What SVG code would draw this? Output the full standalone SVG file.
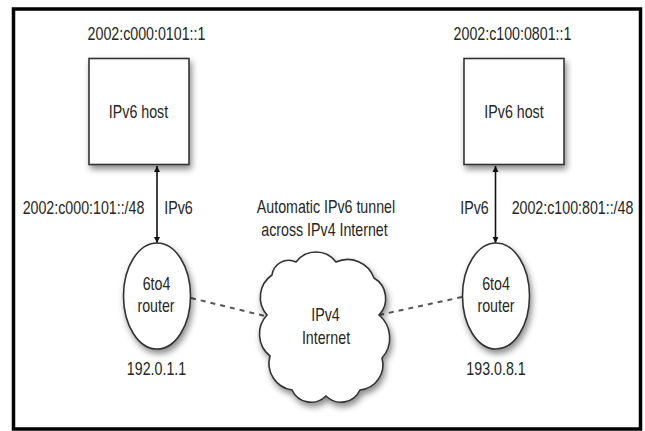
<svg xmlns="http://www.w3.org/2000/svg" width="645" height="431" viewBox="0 0 645 431">
<style>
text{font-family:"Liberation Sans",Arial,sans-serif;font-size:18px;fill:#262626;text-anchor:middle;}
.shape{fill:#fff;stroke:#333;stroke-width:1.6;}
.dash{stroke:#555;stroke-width:2;stroke-dasharray:5 5;fill:none;}
.arrow{stroke:#111;stroke-width:1.6;fill:none;}
</style>
<defs>
<filter id="sh" x="-30%" y="-30%" width="160%" height="160%">
<feDropShadow dx="2" dy="4" stdDeviation="3" flood-color="#000" flood-opacity="0.45"/>
</filter>
<marker id="ah" viewBox="0 0 10 10" refX="10" refY="5" markerWidth="6" markerHeight="11" markerUnits="userSpaceOnUse" orient="auto-start-reverse">
<path d="M0,0 L10,5 L0,10 Z" fill="#111"/>
</marker>
</defs>
<rect x="13.5" y="9" width="627" height="420" fill="#fff" stroke="#000" stroke-width="3.5"/>

<g id="connectors">
<line class="arrow" x1="157" y1="166" x2="157" y2="243" marker-start="url(#ah)" marker-end="url(#ah)"/>
<line class="arrow" x1="495.5" y1="166" x2="495.5" y2="243" marker-start="url(#ah)" marker-end="url(#ah)"/>
<line class="dash" x1="191" y1="298" x2="265" y2="316"/>
<line class="dash" x1="379" y1="315" x2="462" y2="297"/>
<text transform="translate(83.5,214) scale(0.79,1)">2002:c000:101::/48</text>
<text transform="translate(178.5,214) scale(0.79,1)">IPv6</text>
<text transform="translate(474.5,214) scale(0.79,1)">IPv6</text>
<text transform="translate(572.5,214) scale(0.79,1)">2002:c100:801::/48</text>
<text transform="translate(326,213) scale(0.79,1)">Automatic IPv6 tunnel</text>
<text transform="translate(324.5,236) scale(0.79,1)">across IPv4 Internet</text>
</g>

<g id="host-left">
<text transform="translate(146.5,40) scale(0.79,1)">2002:c000:0101::1</text>
<rect class="shape" x="89" y="58.5" width="100" height="106" filter="url(#sh)"/>
<text transform="translate(138.5,118) scale(0.79,1)">IPv6 host</text>
</g>

<g id="host-right">
<text transform="translate(512.5,40) scale(0.79,1)">2002:c100:0801::1</text>
<rect class="shape" x="464" y="58.5" width="100" height="106" filter="url(#sh)"/>
<text transform="translate(514,118) scale(0.79,1)">IPv6 host</text>
</g>

<g id="router-left">
<ellipse class="shape" cx="157" cy="296" rx="33.5" ry="53" filter="url(#sh)"/>
<text transform="translate(156.5,290) scale(0.79,1)">6to4</text>
<text transform="translate(156,312) scale(0.79,1)">router</text>
<text transform="translate(156.5,375) scale(0.79,1)">192.0.1.1</text>
</g>

<g id="router-right">
<ellipse class="shape" cx="496" cy="296" rx="33.5" ry="53" filter="url(#sh)"/>
<text transform="translate(496,290) scale(0.79,1)">6to4</text>
<text transform="translate(496,312) scale(0.79,1)">router</text>
<text transform="translate(496,375) scale(0.79,1)">193.0.8.1</text>
</g>

<g id="cloud">
<path class="shape" filter="url(#sh)" d="M267,315 A27,27 0 0 1 272,275 A16.8,16.8 0 0 1 296,262 A25,25 0 0 1 336,262 A28,28 0 0 1 374,278 A23.8,23.8 0 0 1 379,315 A30,30 0 0 1 382,358 A25.4,25.4 0 0 1 360,390 A21,21 0 0 1 326,396 A21,21 0 0 1 292,390 A27,27 0 0 1 270,356 A28,28 0 0 1 267,315 Z"/>
<text transform="translate(325.5,321) scale(0.79,1)">IPv4</text>
<text transform="translate(326,343.5) scale(0.79,1)">Internet</text>
</g>
</svg>
